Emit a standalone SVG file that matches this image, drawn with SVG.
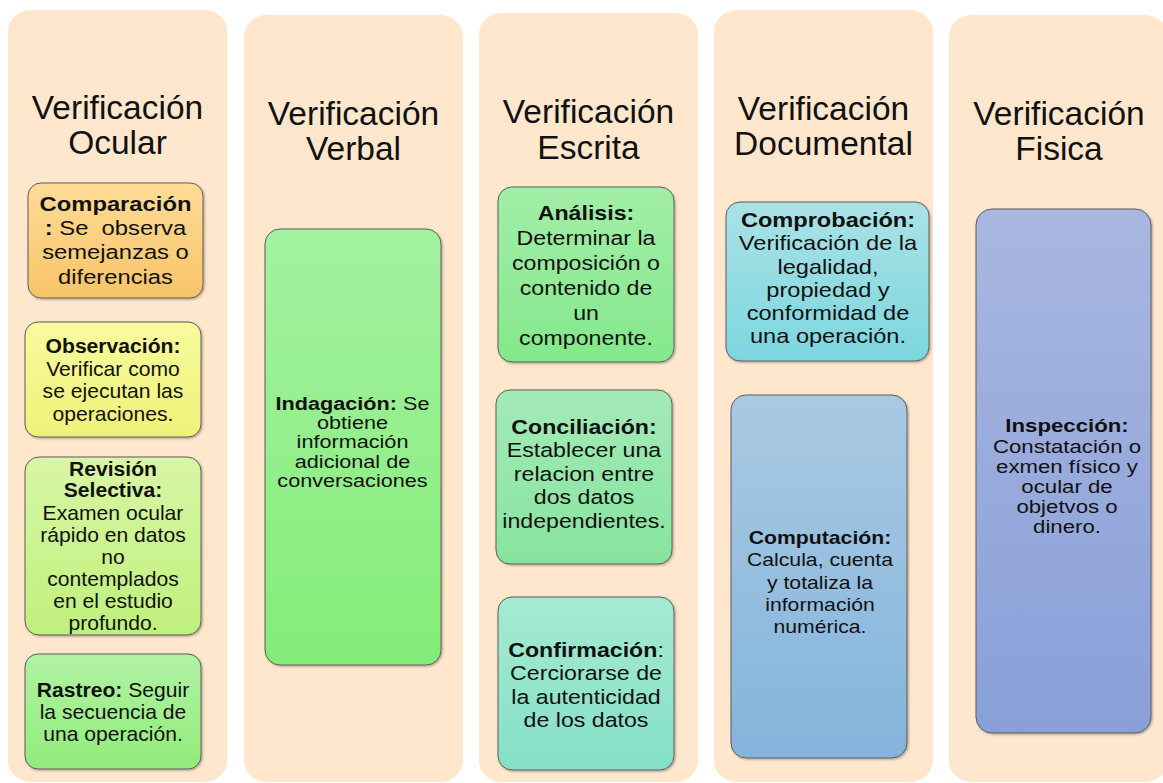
<svg xmlns="http://www.w3.org/2000/svg" width="1163" height="783" viewBox="0 0 1163 783">
<style>
.col{fill:#FFE7CD;}
.title{font-family:"Liberation Sans",Arial,sans-serif;font-size:33.5px;fill:#111;text-anchor:middle;}
.box{stroke:#5c5c5c;stroke-width:1;filter:url(#sh);}
.t{font-family:"Liberation Sans",Arial,sans-serif;fill:#111;text-anchor:middle;}
.b{font-weight:bold;}
</style>
<defs>
<filter id="sh" x="-10%" y="-10%" width="120%" height="120%">
<feDropShadow dx="1.2" dy="1.2" stdDeviation="0.8" flood-color="#000" flood-opacity="0.3"/>
</filter>
<linearGradient id="gOrange" x1="0" y1="0" x2="0" y2="1"><stop offset="0" stop-color="#FFDC98"/><stop offset="1" stop-color="#F8C468"/></linearGradient>
<linearGradient id="gYellow" x1="0" y1="0" x2="0" y2="1"><stop offset="0" stop-color="#F8FA9E"/><stop offset="1" stop-color="#EFF278"/></linearGradient>
<linearGradient id="gLime" x1="0" y1="0" x2="0" y2="1"><stop offset="0" stop-color="#D8F6A6"/><stop offset="1" stop-color="#BFF07C"/></linearGradient>
<linearGradient id="gGreen1" x1="0" y1="0" x2="0" y2="1"><stop offset="0" stop-color="#B0F2A4"/><stop offset="1" stop-color="#92EC7A"/></linearGradient>
<linearGradient id="gGreen2" x1="0" y1="0" x2="0" y2="1"><stop offset="0" stop-color="#A4F2A0"/><stop offset="1" stop-color="#84EC78"/></linearGradient>
<linearGradient id="gGreen3" x1="0" y1="0" x2="0" y2="1"><stop offset="0" stop-color="#A2EEA8"/><stop offset="1" stop-color="#84E88A"/></linearGradient>
<linearGradient id="gMint" x1="0" y1="0" x2="0" y2="1"><stop offset="0" stop-color="#A4EAB8"/><stop offset="1" stop-color="#86E49E"/></linearGradient>
<linearGradient id="gTeal" x1="0" y1="0" x2="0" y2="1"><stop offset="0" stop-color="#A6EAD2"/><stop offset="1" stop-color="#84E0C6"/></linearGradient>
<linearGradient id="gCyan" x1="0" y1="0" x2="0" y2="1"><stop offset="0" stop-color="#AAE2E6"/><stop offset="1" stop-color="#7CD6DE"/></linearGradient>
<linearGradient id="gSky" x1="0" y1="0" x2="0" y2="1"><stop offset="0" stop-color="#A9C9E2"/><stop offset="1" stop-color="#83B4DC"/></linearGradient>
<linearGradient id="gPeri" x1="0" y1="0" x2="0" y2="1"><stop offset="0" stop-color="#A9B7E0"/><stop offset="1" stop-color="#889FD8"/></linearGradient>
</defs>

<g id="col-ocular">
<rect class="col" x="8" y="10" width="219" height="772" rx="22"/>
<text class="title"><tspan x="117.5" y="119">Verificación</tspan><tspan x="117.5" y="154">Ocular</tspan></text>
</g>
<g id="col-verbal">
<rect class="col" x="244" y="15" width="219" height="767" rx="22"/>
<text class="title"><tspan x="353.5" y="125">Verificación</tspan><tspan x="353.5" y="159.5">Verbal</tspan></text>
</g>
<g id="col-escrita">
<rect class="col" x="479" y="13" width="219" height="769" rx="22"/>
<text class="title"><tspan x="588.5" y="122.5">Verificación</tspan><tspan x="588.5" y="159">Escrita</tspan></text>
</g>
<g id="col-documental">
<rect class="col" x="714" y="10" width="219" height="772" rx="22"/>
<text class="title"><tspan x="823.5" y="119.5">Verificación</tspan><tspan x="823.5" y="155">Documental</tspan></text>
</g>
<g id="col-fisica">
<rect class="col" x="949" y="15" width="219" height="767" rx="22"/>
<text class="title"><tspan x="1059" y="124.5">Verificación</tspan><tspan x="1059" y="159.5">Fisica</tspan></text>
</g>

<g id="connectors"/>

<g id="n-comparacion">
<rect class="box" x="28" y="183" width="175" height="115" rx="13" fill="url(#gOrange)"/>
<text class="t" font-size="20.5" transform="translate(115.5 0) scale(1.16 1)"><tspan x="0" y="211" class="b">Comparación</tspan><tspan x="0" y="235"><tspan class="b">:</tspan> Se&#160; observa</tspan><tspan x="0" y="259">semejanzas o</tspan><tspan x="0" y="284">diferencias</tspan></text>
</g>
<g id="n-observacion">
<rect class="box" x="25" y="322" width="176" height="115" rx="13" fill="url(#gYellow)"/>
<text class="t" font-size="20.5" transform="translate(113 0) scale(1.03 1)"><tspan x="0" y="353" class="b">Observación:</tspan><tspan x="0" y="375.7">Verificar como</tspan><tspan x="0" y="398.3">se ejecutan las</tspan><tspan x="0" y="421">operaciones.</tspan></text>
</g>
<g id="n-revision">
<rect class="box" x="25" y="457" width="176" height="178" rx="14" fill="url(#gLime)"/>
<text class="t" font-size="20.5" transform="translate(113 0) scale(1.03 1)"><tspan x="0" y="476" class="b">Revisión</tspan><tspan x="0" y="497.5" class="b">Selectiva:</tspan><tspan x="0" y="520">Examen ocular</tspan><tspan x="0" y="542">rápido en datos</tspan><tspan x="0" y="564">no</tspan><tspan x="0" y="586">contemplados</tspan><tspan x="0" y="608">en el estudio</tspan><tspan x="0" y="630">profundo.</tspan></text>
</g>
<g id="n-rastreo">
<rect class="box" x="25" y="654" width="176" height="115" rx="13" fill="url(#gGreen1)"/>
<text class="t" font-size="20.5" transform="translate(113 0) scale(1.03 1)"><tspan x="0" y="697"><tspan class="b">Rastreo:</tspan> Seguir</tspan><tspan x="0" y="719">la secuencia de</tspan><tspan x="0" y="741">una operación.</tspan></text>
</g>

<g id="n-indagacion">
<rect class="box" x="265" y="229" width="176" height="436" rx="15" fill="url(#gGreen2)"/>
<text class="t" font-size="18.5" transform="translate(352.5 0) scale(1.17 1)"><tspan x="0" y="410"><tspan class="b">Indagación:</tspan> Se</tspan><tspan x="0" y="429.2">obtiene</tspan><tspan x="0" y="448.4">información</tspan><tspan x="0" y="467.6">adicional de</tspan><tspan x="0" y="486.8">conversaciones</tspan></text>
</g>

<g id="n-analisis">
<rect class="box" x="498" y="187" width="176" height="175" rx="14" fill="url(#gGreen3)"/>
<text class="t" font-size="20.5" transform="translate(586 0) scale(1.13 1)"><tspan x="0" y="220" class="b">Análisis:</tspan><tspan x="0" y="245">Determinar la</tspan><tspan x="0" y="270">composición o</tspan><tspan x="0" y="295">contenido de</tspan><tspan x="0" y="320">un</tspan><tspan x="0" y="345">componente.</tspan></text>
</g>
<g id="n-conciliacion">
<rect class="box" x="496" y="390" width="176" height="174" rx="14" fill="url(#gMint)"/>
<text class="t" font-size="20.5" transform="translate(584 0) scale(1.13 1)"><tspan x="0" y="434" class="b">Conciliación:</tspan><tspan x="0" y="457.5">Establecer una</tspan><tspan x="0" y="481">relacion entre</tspan><tspan x="0" y="504.5">dos datos</tspan><tspan x="0" y="528">independientes.</tspan></text>
</g>
<g id="n-confirmacion">
<rect class="box" x="498" y="597" width="176" height="173" rx="14" fill="url(#gTeal)"/>
<text class="t" font-size="20.5" transform="translate(586 0) scale(1.13 1)"><tspan x="0" y="657"><tspan class="b">Confirmación</tspan>:</tspan><tspan x="0" y="680.5">Cerciorarse de</tspan><tspan x="0" y="704">la autenticidad</tspan><tspan x="0" y="727.5">de los datos</tspan></text>
</g>

<g id="n-comprobacion">
<rect class="box" x="726" y="202" width="203" height="159" rx="14" fill="url(#gCyan)"/>
<text class="t" font-size="20" transform="translate(828 0) scale(1.18 1)"><tspan x="0" y="227" class="b">Comprobación:</tspan><tspan x="0" y="250.5">Verificación de la</tspan><tspan x="0" y="274">legalidad,</tspan><tspan x="0" y="297">propiedad y</tspan><tspan x="0" y="320">conformidad de</tspan><tspan x="0" y="343">una operación.</tspan></text>
</g>
<g id="n-computacion">
<rect class="box" x="731" y="395" width="176" height="363" rx="15" fill="url(#gSky)"/>
<text class="t" font-size="19" transform="translate(820 0) scale(1.115 1)"><tspan x="0" y="544" class="b">Computación:</tspan><tspan x="0" y="566.5">Calcula, cuenta</tspan><tspan x="0" y="589">y totaliza la</tspan><tspan x="0" y="611">información</tspan><tspan x="0" y="633.3">numérica.</tspan></text>
</g>

<g id="n-inspeccion">
<rect class="box" x="976" y="209" width="175" height="524" rx="16" fill="url(#gPeri)"/>
<text class="t" font-size="18.5" transform="translate(1067 0) scale(1.2 1)"><tspan x="0" y="432.5" class="b">Inspección:</tspan><tspan x="0" y="452.7">Constatación o</tspan><tspan x="0" y="472.9">exmen físico y</tspan><tspan x="0" y="493.1">ocular de</tspan><tspan x="0" y="513.3">objetvos o</tspan><tspan x="0" y="533.5">dinero.</tspan></text>
</g>
</svg>
